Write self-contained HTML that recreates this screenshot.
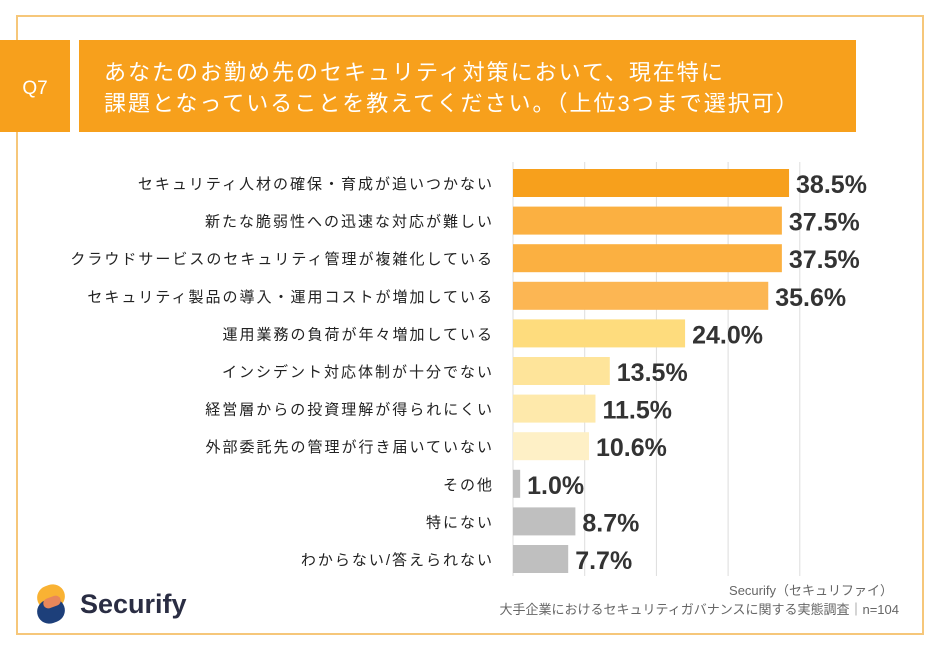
<!DOCTYPE html>
<html><head><meta charset="utf-8">
<style>
body{margin:0;background:#fff;}
svg{display:block;font-family:"Liberation Sans","Noto Sans CJK JP",sans-serif;}
</style></head>
<body>
<svg id="chart" width="941" height="650" viewBox="0 0 941 650" xmlns="http://www.w3.org/2000/svg">
  <rect x="17" y="16" width="906" height="618" fill="#fff" stroke="#f6c77a" stroke-width="2"/>
  <rect x="0" y="40" width="70" height="92" fill="#f7a01c"/>
  <text x="35" y="94" text-anchor="middle" font-size="19" fill="#fff">Q7</text>
  <rect x="79" y="40" width="777" height="92" fill="#f7a01c"/>
  <text x="104" y="80" font-size="22" letter-spacing="2" fill="#fff">あなたのお勤め先のセキュリティ対策において、現在特に</text>
  <text x="104" y="111" font-size="22" letter-spacing="2" fill="#fff">課題となっていることを教えてください。（上位3つまで選択可）</text>
  <g id="grid"></g>
  <g id="bars"></g>
  <g>
    <rect x="37" y="585" width="28" height="24" rx="12" fill="#f9b233" transform="rotate(-20 51 597)"/>
    <rect x="37" y="599" width="28" height="24" rx="12" fill="#1d3f7a" transform="rotate(-20 51 611)"/>
    <rect x="43" y="597" width="18" height="10" rx="5" fill="#e8875a" transform="rotate(-20 52 602)"/>
    <text x="80" y="613" font-size="27" font-weight="bold" fill="#2a2d43">Securify</text>
  </g>
  <text x="893" y="595" text-anchor="end" font-size="13" fill="#666">Securify（セキュリファイ）</text>
  <text x="899" y="614" text-anchor="end" font-size="13" fill="#666">大手企業におけるセキュリティガバナンスに関する実態調査｜n=104</text>
</svg>
<script>
const categories = ["セキュリティ人材の確保・育成が追いつかない","新たな脆弱性への迅速な対応が難しい","クラウドサービスのセキュリティ管理が複雑化している","セキュリティ製品の導入・運用コストが増加している","運用業務の負荷が年々増加している","インシデント対応体制が十分でない","経営層からの投資理解が得られにくい","外部委託先の管理が行き届いていない","その他","特にない","わからない/答えられない"];
const values = [38.5,37.5,37.5,35.6,24.0,13.5,11.5,10.6,1.0,8.7,7.7];
const valueLabels = ["38.5%","37.5%","37.5%","35.6%","24.0%","13.5%","11.5%","10.6%","1.0%","8.7%","7.7%"];
const gridTicks = [0,10,20,30,40];
const colors = ["#f7a01c","#fbb041","#fbb041","#fcb653","#fedc7d","#fee49a","#fee9ab","#fef0c6","#bfbfbf","#bfbfbf","#bfbfbf"];

const NS = "http://www.w3.org/2000/svg";
const x0 = 513, pxPer = 7.17, top0 = 169, step = 37.6, barH = 28;
const xs = v => x0 + v * pxPer;
const ys = i => top0 + i * step;
const grid = document.getElementById('grid');
gridTicks.forEach(t => {
  const l = document.createElementNS(NS, 'line');
  
  
  l.setAttribute('x1', xs(t)); l.setAttribute('x2', xs(t));
  l.setAttribute('y1', 162); l.setAttribute('y2', 576);
  l.setAttribute('stroke', '#dddddd'); l.setAttribute('stroke-width', '1');
  grid.appendChild(l);
});
const bars = document.getElementById('bars');
values.forEach((v, i) => {
  const y = ys(i);
  const r = document.createElementNS(NS, 'rect');
  
  
  r.setAttribute('x', x0); r.setAttribute('y', y);
  r.setAttribute('width', xs(v) - x0); r.setAttribute('height', barH);
  r.setAttribute('fill', colors[i]);
  bars.appendChild(r);
  const c = document.createElementNS(NS, 'text');
  
  
  c.setAttribute('x', 494); c.setAttribute('y', y + 20);
  c.setAttribute('text-anchor', 'end'); c.setAttribute('font-size', '15');
  c.setAttribute('fill', '#222'); c.setAttribute('letter-spacing', '2');
  c.textContent = categories[i];
  bars.appendChild(c);
  const t = document.createElementNS(NS, 'text');
  
  
  t.setAttribute('x', xs(v) + 7); t.setAttribute('y', y + 24);
  t.setAttribute('font-size', '25'); t.setAttribute('font-weight', 'bold');
  t.setAttribute('fill', '#333');
  t.textContent = valueLabels[i];
  bars.appendChild(t);
});
</script>
</body></html>
